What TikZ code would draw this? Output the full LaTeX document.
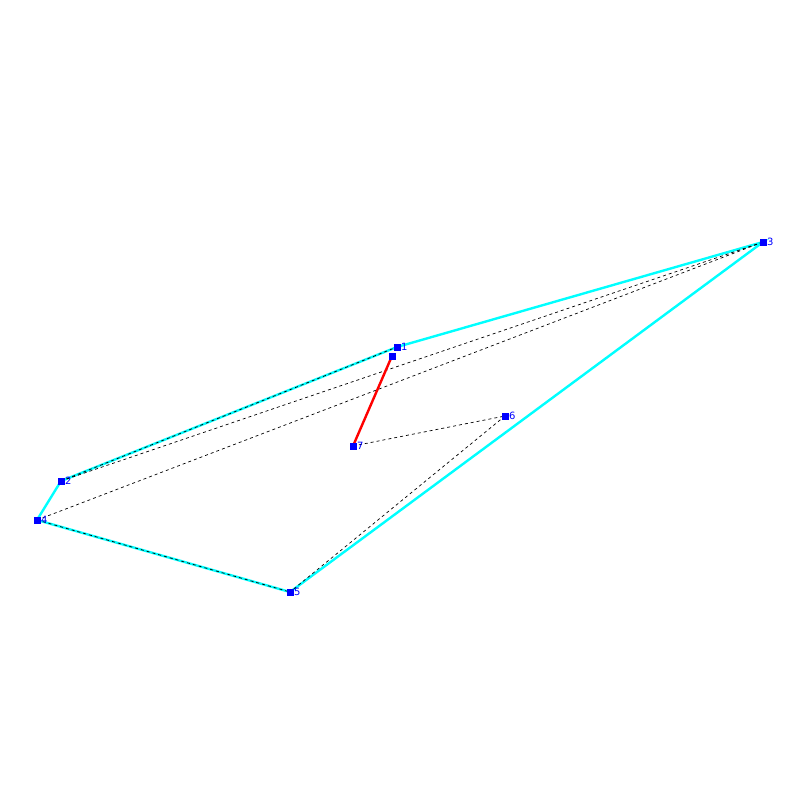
\documentclass[tikz,border=0pt]{standalone}
\usepackage{fontspec}
\setmainfont{DejaVu Sans}
\definecolor{hullcyan}{RGB}{0,255,255}
\definecolor{ptblue}{RGB}{0,0,255}
\definecolor{segred}{RGB}{255,0,0}
\begin{document}
\begin{tikzpicture}[x=1pt,y=-1pt,
  pt/.style={fill=ptblue,draw=none,minimum size=7pt,inner sep=0pt,outer sep=0pt,rectangle},
  lbl/.style={text=ptblue,font=\fontsize{10}{11}\selectfont,inner sep=0pt,anchor=west},
  hull/.style={draw=hullcyan,line width=2.4pt},
  dsh/.style={draw=black,line width=0.7pt,dash pattern=on 3pt off 3pt},
  seg/.style={draw=segred,line width=2.4pt}]
\useasboundingbox[fill=white] (0,0) rectangle (800,800);
\coordinate (p1) at (397,347);
\coordinate (p0) at (392,356);
\coordinate (p2) at (61,481);
\coordinate (p3) at (763,242);
\coordinate (p4) at (37,520);
\coordinate (p5) at (290,592);
\coordinate (p6) at (505,416);
\coordinate (p7) at (353,446);
% hull
\draw[hull] (p1) -- (p3) -- (p5) -- (p4) -- (p2) -- cycle;
% dashed
\draw[dsh] (p2) -- (p1);
\draw[dsh] (p2) -- (p3);
\draw[dsh] (p4) -- (p3);
\draw[dsh] (p4) -- (p5);
\draw[dsh] (p7) -- (p6);
\draw[dsh] (p6) -- (p5);
% red segment
\draw[seg] (p0) -- (p7);
% points
\foreach \n in {0,1,2,3,4,5,6,7} {\node[pt] (n\n) at (p\n) {};}
\foreach \n in {1,2,3,4,5,6,7} {\node[lbl] (l\n) at ([xshift=4pt]p\n) {\n};}
\end{tikzpicture}
\end{document}
